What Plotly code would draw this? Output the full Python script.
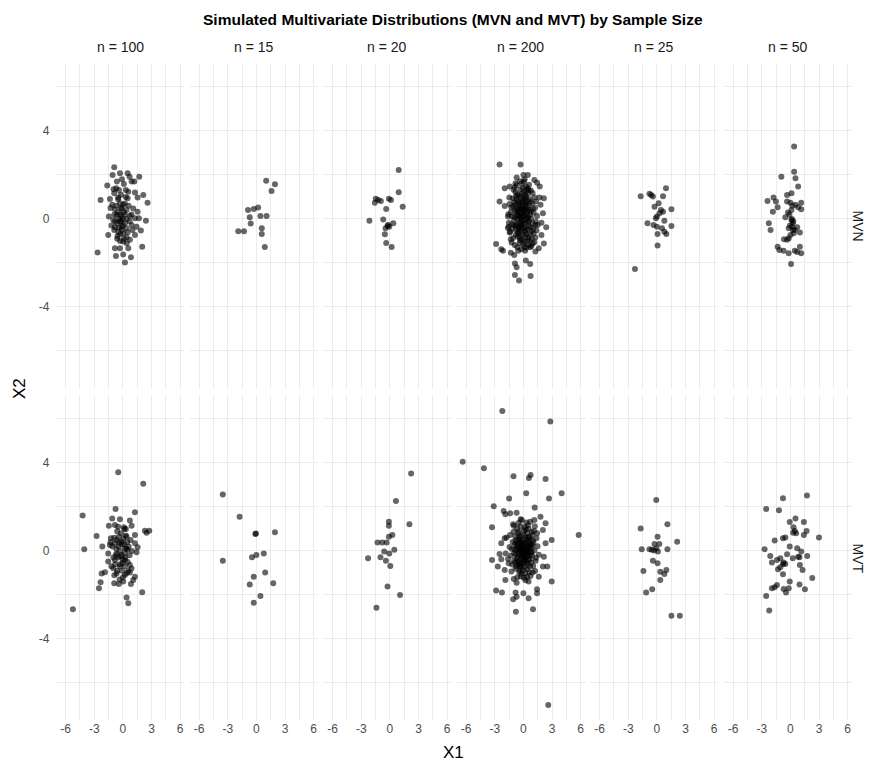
import plotly.graph_objects as go

TITLE = "Simulated Multivariate Distributions (MVN and MVT) by Sample Size"
SAMPLE_SIZES = ["100", "15", "20", "200", "25", "50"]
DISTS = ["MVN", "MVT"]
X_TICKS = [-6, -3, 0, 3, 6]
Y_TICKS = [-4, 0, 4]

# ---------------- MVN ----------------
MVN_100 = [(-0.91,2.35),(-1.08,2.0),(-0.31,2.08),(0.49,2.08),(0.70,1.92),(1.71,1.92),(-0.63,1.70),(0.10,1.59),
 (0.91,1.70),(1.19,1.70),(-1.64,1.52),(-0.98,1.35),(-0.42,1.32),(0.31,1.32),(0.56,1.24),(-0.91,1.17),(1.26,1.20),
 (2.13,1.09),(1.54,0.98),(-2.34,0.86),(-1.36,0.91),(-0.49,0.98),(0.49,0.94),(2.58,0.74),(-1.12,0.64),(-0.31,0.71),
 (0.03,0.64),(-0.84,0.44),(-0.14,0.48),(0.38,0.41),(1.08,0.48),(1.54,0.33),(-1.47,0.11),(-0.66,0.18),(-0.14,0.11),
 (0.73,0.14),(1.26,0.03),(1.68,0.03),(2.41,-0.08),(-1.01,-0.05),(-0.31,-0.12),(0.21,-0.20),(0.91,-0.27),(-0.84,-0.38),
 (-0.14,-0.35),(0.38,-0.42),(1.43,-0.35),(1.88,-0.53),(-0.91,-0.50),(-0.49,-0.58),(0.03,-0.65),(-1.54,-0.73),
 (-0.56,-0.77),(0.38,-0.83),(1.26,-0.73),(0.03,-1.03),(0.73,-0.95),(-0.84,-1.33),(-0.31,-1.33),(0.56,-1.33),
 (2.02,-1.26),(-2.65,-1.52),(-0.73,-1.68),(0.03,-1.62),(0.84,-1.74),(0.21,-1.98),
 (-0.5,0.3),(-0.3,0.2),(-0.2,-0.1),(0.0,0.0),(-0.6,-0.2),(-0.4,-0.4),(-0.2,0.5),(0.1,0.3),(-0.7,0.6),(0.2,0.7),
 (-0.1,-0.5),(-0.8,-0.1),(0.4,0.0),(-0.3,-0.7),(0.1,-0.9),(-0.5,0.9),(0.3,1.0),(-0.9,0.2),(-0.2,1.1),(0.6,0.6),
 (-0.6,-0.9),(0.0,-0.3),(-0.4,0.0),(0.5,-0.6),(-1.2,-0.3),(0.2,0.2),(-0.7,1.4),(0.9,0.2),(-0.1,1.8),(0.4,-1.1),
 (-0.3,-1.0),(0.7,-0.1),(-1.3,0.5),(1.0,-0.5)]

MVN_15 = [(1.02,1.74),(1.94,1.58),(1.58,1.27),(-0.88,0.41),(-0.28,0.45),(0.18,0.52),(-0.70,0.08),(0.42,0.14),
 (1.06,0.14),(-0.60,-0.21),(-1.90,-0.56),(-1.30,-0.56),(0.56,-0.42),(0.56,-0.68),(0.88,-1.27)]

MVN_20 = [(0.92,2.23),(0.92,1.21),(-1.48,0.92),(-1.58,0.74),(-0.95,0.82),(-1.23,0.86),(-0.11,0.92),(0.11,0.86),
 (1.34,0.56),(-0.39,0.45),(-2.15,-0.08),(-0.70,-0.02),(0.35,-0.20),(-0.25,-0.32),(-0.46,-0.42),(-0.07,-0.35),
 (-0.53,-0.70),(-0.39,-1.09),(0.18,-1.27),(-0.18,-0.26)]

MVN_200 = [(-2.5,2.48),(-0.29,2.48),(-0.71,1.88),(0,2.0),(0.46,2.0),(0.07,1.70),(1.14,1.77),(1.43,1.65),(1.71,1.47),
 (-1.96,1.39),(-1.43,1.47),(0.54,1.32),(-2.5,0.79),(-1.96,0.59),(1.68,0.97),(2.14,0.94),(1.79,0.64),(2.04,0.26),
 (2.39,-0.38),(1.89,-0.17),(1.25,-0.27),(-1.61,0.11),(-1.54,-0.35),(-1.43,-0.62),(1.89,-0.73),(2.14,-1.11),
 (1.61,-1.33),(1.25,-1.48),(-2.86,-1.14),(-2.32,-1.38),(-2.14,-1.44),(-1.32,-1.53),(-0.96,-1.64),(-0.54,-1.44),
 (0.18,-1.44),(0.71,-1.29),(0.96,-1.11),(-0.89,-2.02),(-0.71,-2.20),(0.25,-1.89),(0.71,-2.05),(-0.89,-2.55),
 (0.75,-2.59),(-0.46,-2.80),
 (-0.82,1.21),(-0.31,1.34),(0.18,1.08),(-1.12,0.93),(-0.58,0.79),(-0.07,0.88),(0.41,0.83),(0.92,0.71),(-1.27,0.52),(-0.88,0.37),(-0.42,0.61),(0.09,0.49),
 (0.63,0.42),(1.08,0.28),(-1.18,0.12),(-0.69,0.19),(-0.21,0.08),(0.32,0.23),(0.81,0.02),(1.29,-0.12),(-0.97,-0.27),(-0.48,-0.18),(0.03,-0.07),(0.52,-0.31),
 (1.02,-0.43),(-1.39,-0.58),(-0.77,-0.49),(-0.29,-0.62),(0.21,-0.51),(0.73,-0.68),(-1.08,-0.87),(-0.57,-0.81),(-0.11,-0.93),(0.38,-1.02),(0.87,-0.91),(-0.91,-1.18),
 (-0.39,-1.09),(0.12,-1.27),(0.58,-1.19),(-0.18,1.62),(0.27,1.48),(-0.71,1.53),(0.78,1.29),(-1.48,0.98),(1.17,0.97),(-0.52,0.33),(-0.14,0.41),(0.24,0.66),
 (-0.33,0.02),(0.11,0.17),(-0.62,-0.04),(0.47,0.09),(-0.24,-0.33),(0.16,-0.22),(-0.86,0.64),(0.66,0.91),(-0.45,1.05),(0.05,1.22),(-1.02,1.33),(0.49,1.17),
 (-0.15,-0.44),(0.34,-0.71),(-0.66,-0.29),(0.94,-0.19),(-1.21,-0.24),(1.22,0.51),(-0.03,0.63),(-0.37,0.27),(0.29,-0.04),(-0.79,-0.72),(0.71,-0.38),(-0.26,0.74),
 (0.07,0.31),(-0.49,0.47),(0.55,0.61),(-0.94,0.08),(-0.12,-0.16),(0.19,-0.81),(-0.54,-0.56),(0.42,-0.47),(-1.31,0.31),(1.06,-0.66),(-0.08,1.42),(-0.61,1.11),
 (0.36,1.31),(-0.99,-0.05),(-0.35,-0.86),(0.61,-0.96),(-0.72,0.89),(0.14,0.94),(-0.19,0.52),(0.44,0.37),(-0.44,-0.38),(0.01,0.12),(-0.28,-0.12),(0.26,0.42),
 (-1.58,0.21),(1.42,0.14),(-1.63,-0.41),(1.37,-0.52),(-0.83,1.62),(0.59,1.55),(-0.04,-1.15),(-0.63,-1.29),(0.83,-1.23),(-1.24,-1.07),(1.14,-1.06),(-0.16,0.21),
 (0.09,-0.38),(-0.41,0.14),(0.33,0.55),(-0.74,0.47),(0.68,0.18),(-0.27,0.97),(0.22,0.77),(-0.56,-0.67),(0.47,-0.14),(-0.09,-0.71),(-1.07,0.58),(0.98,0.46),
 (-0.36,1.71),(0.13,1.81),(-0.92,1.44),(0.96,1.18),(-1.45,0.68),(1.31,0.79),(-1.52,-0.17),(1.49,-0.27),(-1.33,-0.92),(1.26,-0.84),(-0.22,-1.38),(0.31,-1.31),
 (-0.51,0.71),(0.04,0.38),(-0.17,-0.27),(0.39,0.04),(-0.67,0.34),(0.57,-0.09),(-0.31,0.44),(0.17,-0.58),(-0.81,-0.31),(0.77,0.33),(-0.02,0.79),(-0.46,-0.46),
 (0.28,1.02),(-0.77,1.03),(0.86,-0.55),(-1.16,-0.45),(0.52,-0.83),(-0.13,1.17),(-0.58,0.12),(0.11,-1.04),(-0.97,0.76),(0.71,0.78),(-0.34,-0.97),(0.43,1.39)]

MVN_25 = [(0.95,1.39),(-1.70,1.03),(-0.78,1.14),(-0.60,1.09),(-0.42,1.02),(0.64,1.03),(-0.25,0.56),(0.18,0.71),
 (1.52,0.44),(0.42,0.41),(0.64,0.33),(0.28,0.26),(0,0.11),(-0.11,0.03),(0.78,-0.08),(-0.99,-0.20),(-0.35,-0.27),
 (0,-0.35),(0.53,-0.42),(1.52,-0.32),(0.78,-0.58),(0.99,-0.68),(0.07,-0.68),(0.07,-1.21),(-2.30,-2.27)]

MVN_50 = [(0.39,3.29),(0.39,2.15),(-0.95,1.92),(0.53,1.85),(0.81,1.47),(-0.35,1.09),(0.11,1.17),(-1.77,0.98),
 (-2.40,0.82),(-1.52,0.79),(-0.35,0.79),(0,0.74),(0.53,0.64),(1.13,0.74),(1.13,0.44),(0.81,0.53),(-1.34,0.53),
 (-1.84,0.33),(0.11,0.41),(-0.25,0.29),(-0.53,0.08),(0.11,-0.05),(0.25,-0.20),(-2.26,-0.20),(-2.08,-0.50),
 (-0.18,-0.42),(0.18,-0.35),(0.71,-0.38),(0.99,-0.62),(0.28,-0.50),(-0.67,-0.92),(-0.35,-0.95),(-0.18,-0.88),
 (-1.34,-1.26),(-1.16,-1.41),(-0.71,-1.44),(-0.18,-1.56),(0.46,-1.44),(0.71,-1.50),(1.13,-1.56),(0.99,-1.26),
 (0.07,-2.05),(0.35,-0.65),(0,-0.73),(0.2,0.6),(-0.1,0.2),(0.3,-0.1),(-0.05,-0.3),(0.45,-0.5),(0.15,0.0)]

# ---------------- MVT ----------------
MVT_100 = [(-0.49,3.58),(2.13,3.05),(-0.77,1.91),(1.26,1.76),(-4.22,1.61),(-1.12,1.48),(-0.31,1.44),(0.73,1.38),
 (-1.47,1.14),(-0.84,1.18),(0.10,1.08),(0.31,1.0),(0.91,1.14),(2.30,0.92),(2.76,0.92),(2.48,0.83),(-2.76,0.68),
 (-1.26,0.58),(-0.42,0.65),(0.38,0.65),(1.26,0.73),(-2.16,0.20),(-4.05,0.08),(-1.36,0.27),(-0.84,0.35),(-0.14,0.42),
 (1.26,0.35),(1.54,0.17),(0.21,0.12),(0.49,0.05),(1.43,-0.06),(-1.54,-0.11),(-0.66,-0.11),(-0.14,-0.18),(-1.54,-0.48),
 (-0.84,-0.41),(0.21,-0.41),(0.73,-0.64),(-1.01,-0.79),(-0.31,-0.71),(-1.88,-0.97),(-2.23,-1.02),(-0.66,-1.02),
 (0.21,-1.09),(0.73,-0.98),(1.26,-1.17),(1.08,-1.32),(0.84,-1.50),(-2.34,-1.42),(-0.91,-1.47),(-0.42,-1.50),
 (0.03,-1.39),(-2.51,-1.70),(2.02,-1.88),(0.38,-2.11),(0.56,-2.38),(-5.24,-2.65),
 (-0.6,0.9),(-0.2,0.8),(0.3,0.7),(-0.9,0.6),(-0.4,0.4),(0.1,0.3),(0.6,0.2),(-1.1,0.2),(-0.7,0.1),(-0.3,0.0),
 (0.2,-0.1),(0.7,-0.2),(-1.0,-0.3),(-0.5,-0.3),(0.0,-0.4),(0.5,-0.5),(-0.8,-0.6),(-0.3,-0.6),(0.2,-0.7),(0.9,-0.8),
 (-0.6,-0.9),(-0.1,-0.9),(0.4,-1.0),(-0.9,-1.1),(0.0,-1.2),(-0.45,0.2),(0.05,0.55),(-0.75,-0.2),(0.35,0.1),
 (-0.25,-0.25),(0.8,0.5),(-1.2,-0.7),(-0.5,1.1),(0.15,1.0),(0.55,-0.9),(-0.35,-1.3),(0.95,0.0),(-0.15,0.3),
 (-0.65,0.5),(0.45,0.4),(-0.05,-0.55),(-1.3,0.4),(0.25,-0.3)]

MVT_15 = [(-3.52,2.56),(-1.76,1.56),(-0.11,0.77),(-0.05,0.79),(1.94,0.85),(-3.52,-0.44),(-0.46,-0.29),(0,-0.18),
 (0.77,-0.11),(0.92,-0.98),(-0.28,-1.17),(1.76,-1.47),(-0.70,-1.52),(0.42,-2.05),(-0.28,-2.35)]

MVT_20 = [(2.22,3.52),(0.63,2.27),(-0.11,1.33),(-0.11,1.14),(2.04,1.21),(-0.11,0.65),(0.25,0.73),(-1.30,0.38),
 (-0.81,0.38),(-0.35,0.38),(-0.60,-0.03),(-0.07,-0.11),(0.46,0.05),(-2.29,-0.33),(-0.99,-0.29),(-0.42,-0.45),
 (0.04,-0.68),(-0.25,-1.62),(1.06,-2.0),(-1.41,-2.58)]

MVT_200 = [(-2.21,6.36),(2.82,5.88),(-6.36,4.05),(-4.14,3.76),(-1.04,3.39),(0.57,3.32),(0.75,3.45),(2.32,3.27),
 (4.0,2.62),(0.29,2.62),(-1.5,2.38),(2.68,2.38),(-3.11,2.03),(1.18,1.97),(-2.07,1.82),(-1.89,1.67),(-1.39,1.71),
 (-0.71,1.74),(1.79,1.56),(-0.29,1.44),(1.14,1.41),(0.71,1.33),(2.32,1.26),(-3.29,1.08),(-1.0,1.14),(2.04,0.95),
 (5.79,0.73),(2.96,0.5),(2.32,0.35),(-1.96,0.58),(-2.32,0.35),(-2.5,-0.14),(-3.29,-0.41),(-2.32,-0.38),(2.14,-0.26),
 (2.04,-0.71),(2.5,-0.71),(-2.68,-0.71),(-1.96,-0.86),(1.61,-1.17),(2.96,-1.39),(-1.89,-1.32),(0.54,-1.39),
 (-0.71,-1.44),(-2.86,-1.80),(-2.25,-1.89),(1.43,-1.74),(1.43,-1.92),(-0.82,-1.89),(-0.71,-2.08),(0,-1.92),
 (0.54,-2.15),(-1.07,-2.2),(1.0,-2.65),(-0.79,-2.76),(2.6,-7.0),
 (-0.42,0.31),(0.18,0.12),(-0.05,-0.22),(0.51,0.44),(-0.77,-0.15),(0.33,-0.51),(-0.28,0.68),(0.82,-0.08),(-1.12,0.41),(0.06,0.92),(-0.61,-0.63),(1.05,0.37),
 (-0.19,-0.04),(0.41,0.21),(-0.53,0.09),(0.27,-0.27),(-0.09,0.47),(0.68,-0.36),(-0.86,0.66),(0.12,-0.74),(-1.32,-0.21),(0.94,0.73),(-0.35,-0.89),(1.28,-0.44),
 (0.02,0.03),(-0.31,-0.38),(0.58,0.08),(-0.64,0.38),(0.22,0.61),(-0.14,-0.58),(0.77,0.29),(-0.97,-0.42),(0.39,-0.83),(-0.47,0.88),(1.15,0.02),(-1.45,0.18),
 (-0.23,0.19),(0.29,-0.08),(-0.71,-0.37),(0.63,0.64),(-0.02,-0.43),(0.47,-0.61),(-0.39,0.52),(0.91,-0.21),(-1.03,0.87),(0.14,1.08),(-0.82,-0.81),(1.36,0.58),
 (0.09,-0.13),(-0.48,-0.12),(0.36,0.36),(-0.13,0.26),(0.72,0.52),(-0.57,-0.48),(0.19,-1.01),(-1.18,-0.62),(1.02,-0.68),(-0.29,1.12),(0.54,1.01),(-1.61,-0.37),
 (-0.08,0.11),(0.44,-0.18),(-0.37,0.04),(0.11,0.34),(-0.69,0.21),(0.86,0.14),(-0.21,-0.71),(0.61,-0.97),(-0.92,0.06),(1.21,-0.91),(-0.51,1.27),(0.31,1.29),
 (0.25,0.02),(-0.16,-0.31),(0.53,-0.42),(-0.81,0.49),(0.03,0.72),(-0.44,-0.97),(0.99,0.48),(-1.26,-0.93),(1.48,0.21),(-0.67,1.02),(0.74,-1.14),(-1.77,0.61),
 (-0.33,0.14),(0.15,-0.36),(-0.58,-0.26),(0.64,0.19),(-0.07,-0.87),(0.37,0.82),(-0.96,-0.12),(0.83,-0.52),(-0.26,-1.16),(0.07,-1.22),(-1.39,0.72),(1.62,-0.17),
 (0.13,0.21),(-0.24,0.41),(0.48,-0.03),(-0.11,-0.16),(0.32,0.51),(-0.46,0.64),(0.69,-0.71),(-0.74,-0.71),(1.11,0.91),(-1.08,1.21),(0.21,-1.33),(-0.63,-1.19),
 (-0.14,0.06),(0.34,-0.23),(-0.62,0.27),(0.06,-0.56),(0.58,0.27),(-0.38,-0.51),(0.87,0.86),(-0.89,0.31),(1.31,-0.31),(-1.54,-0.56),(0.46,1.17),(-0.17,1.41),
 (0.04,-0.29),(-0.52,0.51),(0.42,0.04),(-0.27,-0.17),(0.78,-0.04),(-0.73,0.03),(0.24,0.98),(-0.41,-0.71),(0.96,-0.98),(-1.21,0.09),(1.44,0.81),(-1.86,-0.12),
 (-0.06,0.36),(0.51,0.62),(-0.34,-0.63),(0.18,-0.45),(-0.88,-0.53),(0.66,-0.22),(-0.55,0.81),(0.92,0.26),(-0.18,-1.04),(0.38,-1.18),(-1.01,-1.27),(1.19,1.12)]

MVT_25 = [(-0.07,2.32),(-1.70,1.02),(1.10,1.21),(0.07,0.65),(2.12,0.42),(-0.25,0.32),(0.25,0.32),(-1.59,0.08),
 (-0.78,0.08),(-0.53,0.05),(-0.28,0.02),(0.11,-0.03),(1.10,0.08),(-0.42,-0.44),(0.07,-0.56),(-1.41,-0.91),
 (0.35,-0.94),(0.99,-0.86),(0.78,-1.05),(0.35,-1.32),(-0.49,-1.74),(-1.13,-1.89),(1.52,-2.94),(2.40,-2.94),(-0.07,0.12)]

MVT_50 = [(-0.78,2.39),(1.73,2.52),(-2.54,1.91),(-1.20,1.85),(0.53,1.48),(-0.07,1.32),(1.41,1.32),(0.32,1.08),
 (0.46,0.91),(0.60,0.80),(1.69,0.91),(1.41,0.73),(2.99,0.61),(-0.78,0.58),(-0.53,0.61),(-1.65,0.48),(-2.71,0.08),
 (-0.07,0.20),(0.71,0.12),(1.13,-0.03),(-2.11,-0.23),(-0.35,-0.15),(1.76,-0.23),(-1.06,-0.33),(0.25,-0.33),
 (0.95,-0.29),(-1.94,-0.52),(-0.78,-0.59),(-0.53,-0.59),(-1.06,-0.74),(-1.30,-0.83),(0.99,-0.64),(1.27,-0.86),
 (-0.78,-1.06),(2.29,-1.23),(-0.07,-1.39),(0.95,-1.52),(-1.41,-1.55),(-1.94,-1.70),(-1.65,-1.65),(-0.71,-1.73),
 (-0.46,-1.89),(1.52,-1.74),(-2.54,-2.05),(-2.22,-2.71),(-0.71,-0.53),(0.81,-0.26),(0.28,0.83),(-1.41,-0.41),(-0.18,-1.70)]

DATA = {
    ("MVN", "100"): MVN_100, ("MVN", "15"): MVN_15, ("MVN", "20"): MVN_20,
    ("MVN", "200"): MVN_200, ("MVN", "25"): MVN_25, ("MVN", "50"): MVN_50,
    ("MVT", "100"): MVT_100, ("MVT", "15"): MVT_15, ("MVT", "20"): MVT_20,
    ("MVT", "200"): MVT_200, ("MVT", "25"): MVT_25, ("MVT", "50"): MVT_50,
}

# ---------------- layout geometry ----------------
# The page body has an 8px margin, so the figure is drawn 8px in from the
# window's top-left corner; positions below are in window pixels.
OFF = 8
W, H = 873 - 2 * OFF, 770 - 2 * OFF
PANEL_LEFT0 = 56.4
PANEL_STEP = 133.5
PANEL_W = 127.6
ROW_TOP = [64.3, 396.3]
PANEL_H = 323.4


def px(x):
    return (x - OFF) / W


def py(y):
    return 1 - (y - OFF) / H


all_x = [p[0] for v in DATA.values() for p in v]
all_y = [p[1] for v in DATA.values() for p in v]
xr = max(all_x) - min(all_x)
yr = max(all_y) - min(all_y)
XRANGE = [min(all_x) - 0.05 * xr, max(all_x) + 0.05 * xr]
YRANGE = [min(all_y) - 0.05 * yr, max(all_y) + 0.05 * yr]

FONT = "Liberation Sans, Arial, sans-serif"
GRID = "#EBEBEB"

fig = go.Figure()
layout = {}
annotations = []

for r, dist in enumerate(DISTS):
    for c, n in enumerate(SAMPLE_SIZES):
        idx = r * 6 + c + 1
        pts = DATA[(dist, n)]
        xa = "x" if idx == 1 else f"x{idx}"
        ya = "y" if idx == 1 else f"y{idx}"
        fig.add_trace(go.Scatter(
            x=[p[0] for p in pts], y=[p[1] for p in pts],
            mode="markers", xaxis=xa, yaxis=ya, showlegend=False,
            marker=dict(size=6, color="rgba(0,0,0,0.6)", line=dict(width=0)),
            hoverinfo="x+y",
        ))
        left = PANEL_LEFT0 + c * PANEL_STEP
        top = ROW_TOP[r]
        xdom = [px(left), px(left + PANEL_W)]
        ydom = [py(top + PANEL_H), py(top)]
        key_x = "xaxis" if idx == 1 else f"xaxis{idx}"
        key_y = "yaxis" if idx == 1 else f"yaxis{idx}"
        layout[key_x] = dict(
            domain=xdom, range=XRANGE, anchor=ya, zeroline=False,
            tickvals=X_TICKS, ticktext=[str(v) for v in X_TICKS],
            showticklabels=(r == 1), ticks="", showline=False,
            showgrid=True, gridcolor=GRID, gridwidth=1.1,
            minor=dict(dtick=1.5, tick0=0, showgrid=True, gridcolor=GRID, gridwidth=0.6),
            tickfont=dict(family=FONT, size=12, color="#4D4D4D"),
            fixedrange=True,
        )
        layout[key_y] = dict(
            domain=ydom, range=YRANGE, anchor=xa, zeroline=False,
            tickvals=Y_TICKS, ticktext=[str(v) for v in Y_TICKS],
            showticklabels=(c == 0), ticks="", showline=False,
            showgrid=True, gridcolor=GRID, gridwidth=1.1,
            minor=dict(dtick=2, tick0=0, showgrid=True, gridcolor=GRID, gridwidth=0.6),
            tickfont=dict(family=FONT, size=12, color="#4D4D4D"),
            ticklabelstandoff=6,
            fixedrange=True,
        )
        if r == 0:
            annotations.append(dict(
                text=f"n = {n}", x=px(left + PANEL_W / 2), y=py(47),
                xref="paper", yref="paper", showarrow=False,
                xanchor="center", yanchor="middle",
                font=dict(family=FONT, size=14, color="#1A1A1A"),
            ))
    annotations.append(dict(
        text=dist, x=px(857.5), y=py(ROW_TOP[r] + PANEL_H / 2),
        xref="paper", yref="paper", showarrow=False, textangle=90,
        xanchor="center", yanchor="middle",
        font=dict(family=FONT, size=14, color="#1A1A1A"),
    ))

annotations.append(dict(
    text=f"<b>{TITLE}</b>", x=px(453), y=py(8.5), xref="paper", yref="paper",
    showarrow=False, xanchor="center", yanchor="top",
    font=dict(family=FONT, size=15.5, color="black"),
))
annotations.append(dict(
    text="X1", x=px(453), y=py(752), xref="paper", yref="paper",
    showarrow=False, xanchor="center", yanchor="middle",
    font=dict(family=FONT, size=17, color="black"),
))
annotations.append(dict(
    text="X2", x=px(19), y=py(389), xref="paper", yref="paper",
    showarrow=False, textangle=-90, xanchor="center", yanchor="middle",
    font=dict(family=FONT, size=17, color="black"),
))

fig.update_layout(
    width=W, height=H,
    margin=dict(l=0, r=0, t=0, b=0),
    paper_bgcolor="white", plot_bgcolor="white",
    annotations=annotations,
    **layout,
)

fig.write_html("out.html")
